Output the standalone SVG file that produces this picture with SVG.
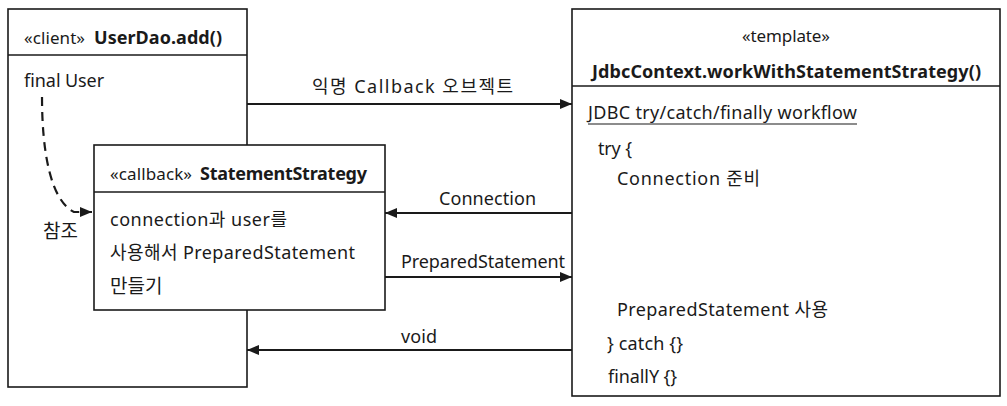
<svg xmlns="http://www.w3.org/2000/svg" width="1007" height="406" viewBox="0 0 1007 406">
<style>
text{font-family:"Noto Sans","Noto Sans CJK KR",sans-serif;font-size:18px;fill:#1a1a1a}
.b{font-weight:bold;font-size:18px}
.s{font-size:17px}
.box{fill:#fff;stroke:#1a1a1a;stroke-width:1.6}
.ln{fill:none;stroke:#1a1a1a;stroke-width:1.8}
.dash{fill:none;stroke:#1a1a1a;stroke-width:2.2;stroke-dasharray:9,6}
</style>
<defs>
<marker id="ah" viewBox="0 0 12 10" refX="12" refY="5" markerWidth="13" markerHeight="10" markerUnits="userSpaceOnUse" orient="auto">
<path d="M0,0 L12,5 L0,10 z" fill="#1a1a1a"/>
</marker>
</defs>
<g id="userdao">
<rect class="box" x="8" y="9" width="239" height="378"/>
<line class="ln" x1="8" y1="55" x2="247" y2="55" style="stroke-width:1.6"/>
<text x="24" y="44" class="s" textLength="61">«client»</text>
<text x="94" y="44" class="b" textLength="128">UserDao.add()</text>
<text x="24" y="87" textLength="80">final User</text>
</g>
<g id="jdbc">
<rect class="box" x="572" y="9" width="428" height="387"/>
<line class="ln" x1="572" y1="86" x2="1000" y2="86" style="stroke-width:1.6"/>
<text x="742" y="42" class="s" textLength="88">«template»</text>
<text x="592" y="78" class="b" textLength="389">JdbcContext.workWithStatementStrategy()</text>
<text x="588" y="119" textLength="269">JDBC try/catch/finally workflow</text>
<line x1="588" y1="124" x2="857" y2="124" stroke="#1a1a1a" stroke-width="1.2"/>
<text x="598" y="155" textLength="34">try {</text>
<text x="617" y="185" textLength="143">Connection 준비</text>
<text x="617" y="316" textLength="211">PreparedStatement 사용</text>
<text x="607" y="350" textLength="76">} catch {}</text>
<text x="608" y="383" textLength="69">finallY {}</text>
</g>
<g id="strategy">
<rect class="box" x="94" y="145" width="291" height="165"/>
<line class="ln" x1="94" y1="192" x2="385" y2="192" style="stroke-width:1.6"/>
<text x="110" y="180" class="s" textLength="82">«callback»</text>
<text x="200" y="180" class="b" textLength="167">StatementStrategy</text>
<text x="110" y="226" textLength="177">connection과 user를</text>
<text x="110" y="259" textLength="245">사용해서 PreparedStatement</text>
<text x="110" y="293" style="font-size:19px">만들기</text>
</g>
<g id="connectors">
<line class="ln" x1="247" y1="104" x2="572" y2="104" marker-end="url(#ah)"/>
<text x="312" y="93" textLength="201">익명 Callback 오브젝트</text>
<line class="ln" x1="572" y1="213" x2="385" y2="213" marker-end="url(#ah)"/>
<text x="439" y="205" textLength="97">Connection</text>
<line class="ln" x1="385" y1="277" x2="572" y2="277" marker-end="url(#ah)"/>
<text x="401" y="268" textLength="164">PreparedStatement</text>
<line class="ln" x1="572" y1="350" x2="247" y2="350" marker-end="url(#ah)"/>
<text x="401" y="343" textLength="36">void</text>
<path class="dash" d="M42,97 C42,150 50,200 74,212 L92,212" marker-end="url(#ah)"/>
<text x="43" y="238" style="font-size:19px">참조</text>
</g>
</svg>
